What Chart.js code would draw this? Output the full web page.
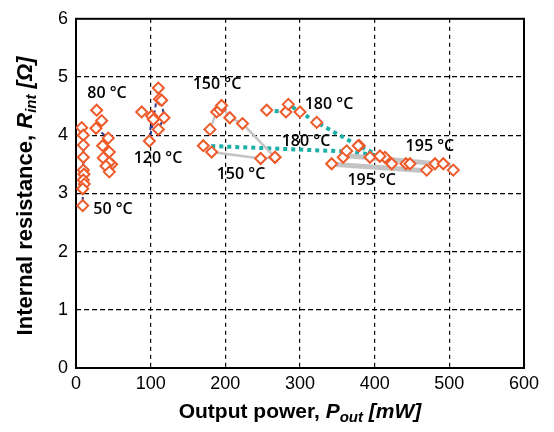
<!DOCTYPE html>
<html>
<head>
<meta charset="utf-8">
<script src="https://cdn.jsdelivr.net/npm/chart.js@4.4.1/dist/chart.umd.min.js"></script>
<style>
  html, body { margin: 0; padding: 0; background: #fff; }
</style>
</head>
<body>
<canvas id="chart" width="554" height="432"></canvas>
<script>
// output power [mW] (p..) and internal resistance [ohm] (r..)
var p50 = [7.6, 9.8, 9.8, 9.8, 9.8, 10.7, 9.8, 11, 9, 9];
var r50 = [4.13, 4.0, 3.83, 3.62, 3.40, 3.33, 3.23, 3.16, 3.08, 2.79];

var p80 = [27.7, 34.4, 26.8, 43.2, 35.7, 44.6, 36.5, 47.8, 44.6, 40.2, 44.6];
var r80 = [4.43, 4.25, 4.12, 3.95, 3.82, 3.71, 3.61, 3.50, 3.53, 3.47, 3.37];

var p120 = [88, 101.3, 98.2, 103.6, 110.3, 111.6, 114.7, 117.9, 110.3];
var r120 = [4.40, 4.33, 3.90, 4.27, 4.81, 4.62, 4.60, 4.30, 4.10];

var p150a = [179.4, 188.4, 192.8, 195, 206, 223, 266.5];
var r150a = [4.10, 4.40, 4.44, 4.51, 4.30, 4.20, 3.62];
var p150b = [170.5, 181.7, 247.3, 266.5];
var r150b = [3.82, 3.71, 3.60, 3.62];

var p180a = [255.4, 281.2, 284.3, 300, 322.4, 378, 407];
var r180a = [4.43, 4.40, 4.53, 4.40, 4.22, 3.82, 3.64];
var p180b = [170.5, 362.5, 407];
var r180b = [3.82, 3.72, 3.65];

var p195 = [342.4, 357.9, 362.5, 379.4, 393.7, 407.1, 413.8, 422.8, 441.9, 447.3, 469.6, 480.8, 491.9, 505.3];
var r195 = [3.51, 3.62, 3.73, 3.82, 3.62, 3.64, 3.62, 3.51, 3.51, 3.51, 3.40, 3.51, 3.51, 3.40];
// the two grey bands drawn through the 195 degC points
var p195a = [360, 501];
var r195a = [3.65, 3.49];
var p195b = [343, 470];
var r195b = [3.50, 3.39];

var xTicks = [0, 100, 200, 300, 400, 500, 600];
var yTicks = [0, 1, 2, 3, 4, 5, 6];

// temperature labels, placed in data units
var tempText = ['50 °C', '80 °C', '120 °C', '150 °C', '150 °C', '180 °C', '180 °C', '195 °C', '195 °C'];
var tempX = [49.6, 41.5, 109.8, 188.8, 221, 338.8, 308, 474, 396];
var tempY = [2.72, 4.71, 3.60, 4.88, 3.33, 4.52, 3.89, 3.81, 3.23];

var ORANGE = '#EE5A2A';
var BLUE = '#2B3990';
var TEAL = '#1BAFA8';
var GREY = '#C4C4C4';

function pts(xs, ys) {
  return xs.map(function (x, i) { return { x: x, y: ys[i] }; });
}

function lineSet(xs, ys, color, width, dash) {
  return {
    data: pts(xs, ys),
    showLine: true,
    borderColor: color,
    borderWidth: width,
    borderDash: dash,
    pointRadius: 0,
    pointHoverRadius: 0,
    fill: false,
    order: 5
  };
}

function markerSet(xs, ys) {
  return {
    data: pts(xs, ys),
    showLine: false,
    pointStyle: 'rectRot',
    pointRadius: 5.5,
    pointBorderWidth: 2,
    pointBorderColor: ORANGE,
    pointBackgroundColor: '#fff',
    order: 1
  };
}

// draws a string made of parts with different fonts, centred on (0,0)
function drawParts(ctx, parts) {
  var total = 0;
  parts.forEach(function (p) { ctx.font = p.font; total += ctx.measureText(p.text).width; });
  var x = -total / 2;
  ctx.textBaseline = 'middle';
  ctx.textAlign = 'left';
  parts.forEach(function (p) {
    ctx.font = p.font;
    ctx.fillText(p.text, x, p.dy || 0);
    x += ctx.measureText(p.text).width;
  });
}

var extras = {
  id: 'extras',
  beforeDatasetsDraw: function (chart) {
    var a = chart.chartArea, ctx = chart.ctx;
    ctx.save();
    ctx.strokeStyle = '#000';
    ctx.lineWidth = 2;
    ctx.strokeRect(a.left, a.top, a.right - a.left, a.bottom - a.top);
    ctx.restore();
  },
  afterDraw: function (chart) {
    var ctx = chart.ctx;
    var xs = chart.scales.x, ys = chart.scales.y;
    ctx.save();
    ctx.fillStyle = '#000';
    ctx.font = '600 16px "Open Sans"';
    ctx.textAlign = 'center';
    ctx.textBaseline = 'middle';
    tempText.forEach(function (t, i) {
      ctx.fillText(t, xs.getPixelForValue(tempX[i]), ys.getPixelForValue(tempY[i]));
    });
    ctx.restore();

    ctx.save();
    ctx.fillStyle = '#000';
    ctx.translate(300, 412);
    drawParts(ctx, [
      { text: 'Output power, ', font: 'bold 21px "Liberation Sans"' },
      { text: 'P', font: 'italic bold 21px "Liberation Sans"' },
      { text: 'out', font: 'italic bold 15px "Liberation Sans"', dy: 6 },
      { text: ' [mW]', font: 'italic bold 21px "Liberation Sans"' }
    ]);
    ctx.restore();

    ctx.save();
    ctx.fillStyle = '#000';
    ctx.translate(26, 196);
    ctx.rotate(-Math.PI / 2);
    drawParts(ctx, [
      { text: 'Internal resistance, ', font: 'bold 22px "Liberation Sans"' },
      { text: 'R', font: 'italic bold 22px "Liberation Sans"' },
      { text: 'int', font: 'italic bold 15px "Liberation Sans"', dy: 6 },
      { text: ' [Ω]', font: 'italic bold 22px "Liberation Sans"' }
    ]);
    ctx.restore();
  }
};

function gridColor(c) {
  var v = c.tick.value;
  return (v === c.scale.min || v === c.scale.max) ? 'rgba(0,0,0,0)' : '#000';
}

new Chart(document.getElementById('chart'), {
  type: 'scatter',
  data: {
    datasets: [
      lineSet(p50, r50, BLUE, 2, [4, 3]),
      lineSet(p80, r80, BLUE, 2, [4, 3]),
      lineSet(p120, r120, BLUE, 2, [4, 3]),
      lineSet(p150a, r150a, GREY, 2.5, []),
      lineSet(p150b, r150b, GREY, 2.5, []),
      lineSet(p195a, r195a, GREY, 5, []),
      lineSet(p195b, r195b, GREY, 5, []),
      lineSet(p180a, r180a, TEAL, 4, [4, 4]),
      lineSet(p180b, r180b, TEAL, 4, [4, 4]),
      markerSet(p50, r50),
      markerSet(p80, r80),
      markerSet(p120, r120),
      markerSet(p150a, r150a),
      markerSet(p150b, r150b),
      markerSet(p180a, r180a),
      markerSet(p195, r195)
    ]
  },
  options: {
    responsive: false,
    animation: false,
    events: [],
    layout: { padding: { top: 15, right: 30, left: 0, bottom: 0 } },
    plugins: {
      legend: { display: false },
      tooltip: { enabled: false },
      title: { display: false }
    },
    scales: {
      x: {
        type: 'linear',
        min: 0,
        max: 600,
        afterFit: function (s) { s.height = 64; },
        afterBuildTicks: function (s) { s.ticks = xTicks.map(function (v) { return { value: v }; }); },
        grid: { color: gridColor, lineWidth: 1.2, drawTicks: false },
        border: { display: false, dash: [4, 4] },
        ticks: { color: '#000', font: { family: 'Liberation Sans', size: 18 }, padding: 5, maxRotation: 0 }
      },
      y: {
        type: 'linear',
        min: 0,
        max: 6,
        afterFit: function (s) { s.width = 76; },
        afterBuildTicks: function (s) { s.ticks = yTicks.map(function (v) { return { value: v }; }); },
        grid: { color: gridColor, lineWidth: 1.2, drawTicks: false },
        border: { display: false, dash: [5, 3] },
        ticks: { color: '#000', font: { family: 'Liberation Sans', size: 18 }, padding: 8 }
      }
    }
  },
  plugins: [extras]
});
</script>
</body>
</html>
